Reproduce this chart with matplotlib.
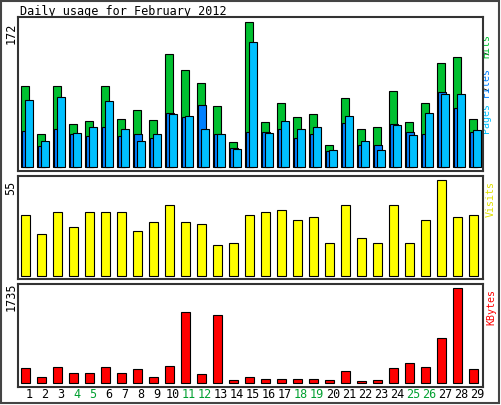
import numpy as np
import matplotlib
matplotlib.use('Agg')
import matplotlib.pyplot as plt

plt.rcParams['font.family'] = 'DejaVu Sans Mono'

days = list(range(1, 30))
weekend = [4, 5, 11, 12, 18, 19, 25, 26]
hits = [96, 39, 96, 51, 55, 96, 57, 68, 56, 134, 115, 100, 72, 30, 172,
        53, 76, 59, 63, 26, 82, 45, 47, 90, 53, 76, 123, 130, 57]
files = [79, 31, 83, 40, 47, 78, 45, 31, 39, 63, 60, 45, 39, 21, 148,
         40, 55, 45, 47, 20, 60, 31, 20, 50, 38, 64, 87, 87, 44]
pages = [43, 25, 45, 39, 37, 47, 37, 39, 34, 64, 59, 73, 39, 23, 41,
         41, 45, 34, 39, 19, 52, 26, 26, 51, 41, 39, 89, 70, 41]
visits = [35, 24, 37, 28, 37, 37, 37, 26, 31, 41, 31, 30, 17.5, 19, 35,
          37, 38, 32, 34, 19, 41, 22, 19, 41, 19, 32, 55, 34, 35]
kbytes = [274, 110, 292, 183, 183, 292, 183, 256, 110, 310, 1297, 164, 1242, 55, 110,
          73, 73, 73, 73, 55, 219, 37, 55, 274, 365, 292, 822, 1735, 256]

W, H = 501, 405
fig = plt.figure(figsize=(W / 100, H / 100), dpi=100)
fig.patch.set_facecolor('white')

# outer frame, in pixel coords
frame = fig.add_axes([0, 0, 1, 1])
frame.set_xlim(0, W); frame.set_ylim(H, 0)
frame.axis('off')
frame.add_patch(plt.Rectangle((1, 1), W - 3, H - 3, fill=False, ec='#444444', lw=1.5))


def panel(top, bottom, base, peak, vmax):
    ax = fig.add_axes([18 / W, 1 - bottom / H, 465 / W, (bottom - top) / H])
    ax.set_xlim(13 / 16, 478 / 16)
    scale = vmax / (base - peak)
    ax.set_ylim(-(bottom - base) * scale, (base - top) * scale)
    ax.set_xticks([]); ax.set_yticks([])
    for s in ax.spines.values():
        s.set_linewidth(1.5); s.set_color('#333333')
    return ax


x = np.array(days, dtype=float)
kw = dict(align='edge', edgecolor='black', linewidth=0.8)

ax1 = panel(17, 171, 167, 22, 172)
ax1.bar(x, hits, 0.5, color='#00c030', **kw)
ax1.bar(x + 0.09, pages, 0.5, color='#0080ff', **kw)
ax1.bar(x + 0.25, files, 0.5, color='#00c0ff', **kw)

ax2 = panel(176, 279, 275.7, 180.3, 55)
ax2.bar(x, visits, 0.56, color='#ffff00', **kw)

ax3 = panel(284, 387, 383.3, 288.3, 1735)
ax3.bar(x, kbytes, 0.56, color='#ff0000', **kw)

# texts
frame.text(20, 11, 'Daily usage for February 2012', fontsize=8.5, va='center', ha='left')
frame.text(11, 33, str(max(hits)), rotation=90, fontsize=8.5, ha='center', va='center')
frame.text(11, 188, str(int(max(visits))), rotation=90, fontsize=8.5, ha='center', va='center')
frame.text(11, 297, str(max(kbytes)), rotation=90, fontsize=8.5, ha='center', va='center')

# right-hand legend, pieces stacked bottom-up
fs = 7.2
adv = 0.602 * fs * 100 / 72
legend_parts = [('Pages', '#00c0ff'), ('/', '#000000'), ('Files', '#0080ff'),
                ('/', '#000000'), ('Hits', '#00c030')]
ypos = 118
for txt, col in legend_parts:
    frame.text(491, ypos, txt, rotation=90, color=col, fontsize=fs,
               ha='center', va='bottom', rotation_mode='anchor')
    ypos -= adv * len(txt)
frame.text(491, 217, 'Visits', rotation=90, color='#e0e000', fontsize=fs, ha='center', va='bottom')
frame.text(491, 325, 'KBytes', rotation=90, color='#ff0000', fontsize=fs, ha='center', va='bottom')

for d in days:
    frame.text(29 + 16 * (d - 1), 394, str(d), fontsize=8.5, ha='center', va='center',
               color='#00a030' if d in weekend else 'black')

fig.savefig('out.png', dpi=100)
